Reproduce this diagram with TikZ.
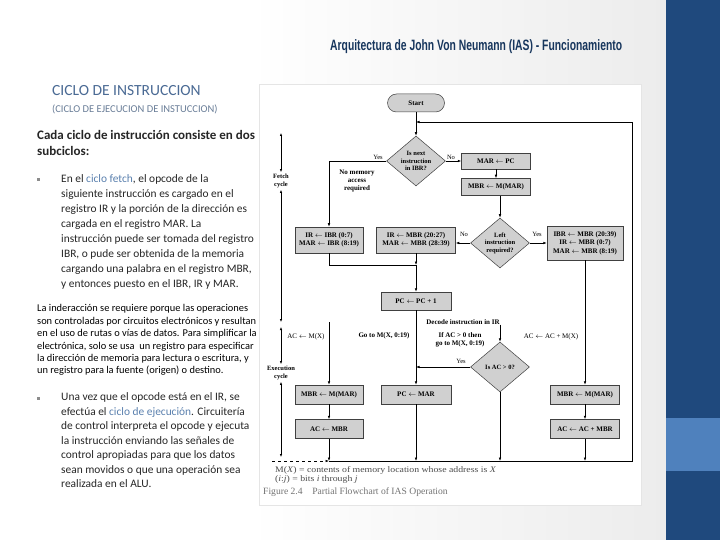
\documentclass[tikz,border=0pt]{standalone}
\usepackage{fontspec}
\setmainfont{Carlito}
\newfontfamily\fcfont{Liberation Serif}
\newfontfamily\fnfont[FakeStretch=1.15]{Liberation Serif}
\newfontfamily\titlefont[FakeStretch=0.69]{Liberation Sans}
\usetikzlibrary{shapes.geometric,arrows.meta,positioning,calc}

\definecolor{titlenavy}{HTML}{17365D}
\definecolor{headblue}{HTML}{4A6A94}
\definecolor{subblue}{HTML}{6A7E98}
\definecolor{linkblue}{HTML}{5A80AE}
\definecolor{bodygray}{HTML}{262626}
\definecolor{slidegray}{HTML}{ECECEC}
\definecolor{bardark}{HTML}{1F497D}
\definecolor{barlight}{HTML}{4F81BD}
\definecolor{boxgray}{HTML}{D0D0D0}

\newcommand{\la}{$\leftarrow$}

\tikzset{
  fcbox/.style={rectangle, draw=black!75, fill=boxgray, line width=0.5pt, inner sep=1pt,
    font=\fcfont\bfseries\fontsize{7}{8.5}\selectfont, align=center},
  fcdec/.style={diamond, draw=black!75, fill=boxgray, line width=0.5pt, inner sep=0pt,
    shape aspect=1.2, minimum width=59pt, minimum height=50pt,
    font=\fcfont\bfseries\fontsize{6.5}{7.5}\selectfont, align=center},
  fcterm/.style={rectangle, rounded corners=9pt, draw=black!75, fill=boxgray, line width=0.5pt,
    minimum width=57pt, minimum height=18pt, font=\fcfont\bfseries\fontsize{7}{8}\selectfont},
  fclbl/.style={inner sep=0pt, align=center, font=\fcfont\bfseries\fontsize{7}{7.8}\selectfont},
  fcyes/.style={inner sep=0pt, font=\fcfont\fontsize{6.5}{7.5}\selectfont},
  fcline/.style={line width=0.6pt},
  fcarr/.style={-{Latex[length=3.5pt,width=2.6pt]}, line width=0.6pt},
  cycarr/.style={{Latex[length=3pt,width=2.4pt]}-{Latex[length=3pt,width=2.4pt]}, line width=0.5pt},
  fnote/.style={inner sep=0pt, anchor=west, font=\fnfont\fontsize{8.5}{9}\selectfont, text=black!70},
  bodytxt/.style={inner sep=0pt, anchor=north west, align=left, text=bodygray},
  bulletsq/.style={rectangle, fill=black!45, inner sep=0pt, minimum size=3pt}
}

\begin{document}
\begin{tikzpicture}[x=1pt, y=-1pt]
  \useasboundingbox (0,0) rectangle (720,540);

  % slide background and side bar
  \fill[white] (0,0) rectangle (666,540);
  \shade[left color=white, right color=slidegray] (250,0) rectangle (666,540);
  \fill[bardark] (666,0) rectangle (720,540);
  \fill[barlight] (666,418) rectangle (720,471);

  % flowchart panel
  \filldraw[fill=white, draw=black!10] (259,84) rectangle (641,505);

  % title
  \node[inner sep=0pt, anchor=west, text=titlenavy, font=\titlefont\bfseries\fontsize{15}{17}\selectfont] (title) at (330,47)
    {Arquitectura de John Von Neumann (IAS) - Funcionamiento};

  % left column
  \node[inner sep=0pt, anchor=west, text=headblue, font=\fontsize{15.5}{17}\selectfont] (head) at (52,91) {CICLO DE INSTRUCCION};
  \node[inner sep=0pt, anchor=west, text=subblue, font=\fontsize{10.5}{12}\selectfont] (subhead) at (52,109) {(CICLO DE EJECUCION DE INSTUCCION)};

  \node[bodytxt, font=\bfseries\fontsize{13}{16}\selectfont] (intro) at (37,130.3)
    {Cada ciclo de instrucción consiste en dos\\subciclos:};

  \node[bulletsq] (bul1) at (38,180) {};
  \node[bodytxt, font=\fontsize{11.4}{15}\selectfont] (fetchtxt) at (61,174.6)
    {En el {\color{linkblue}ciclo fetch}, el opcode de la\\
     siguiente instrucción es cargado en el\\
     registro IR y la porción de la dirección es\\
     cargada en el registro MAR. La\\
     instrucción puede ser tomada del registro\\
     IBR, o pude ser obtenida de la memoria\\
     cargando una palabra en el registro MBR,\\
     y entonces puesto en el IBR, IR y MAR.};

  \node[bodytxt, text=black, font=\fontsize{10.4}{12.4}\selectfont] (intertxt) at (37,304.5)
    {La inderacción se requiere porque las operaciones\\
     son controladas por circuitos electrónicos y resultan\\
     en el uso de rutas o vías de datos. Para simplificar la\\
     electrónica, solo se usa\ \ un registro para especificar\\
     la dirección de memoria para lectura o escritura, y\\
     un registro para la fuente (origen) o destino.};

  \node[bulletsq] (bul2) at (38,398) {};
  \node[bodytxt, font=\fontsize{11.4}{14.5}\selectfont] (exectxt) at (61,392.6)
    {Una vez que el opcode está en el IR, se\\
     efectúa el {\color{linkblue}ciclo de ejecución}. Circuitería\\
     de control interpreta el opcode y ejecuta\\
     la instrucción enviando las señales de\\
     control apropiadas para que los datos\\
     sean movidos o que una operación sea\\
     realizada en el ALU.};

  % fetch part
  \node[fcterm] (start) at (416,103) {Start};
  \coordinate (jtop) at (416,122);
  \coordinate (rtop) at (632,122);
  \node[fcdec] (ibrq) at (416,161) {Is next\\instruction\\in IBR?};
  \node[fcbox, minimum width=69pt, minimum height=16pt] (marpc) at (496,161) {MAR \la{} PC};
  \node[fcbox, minimum width=69pt, minimum height=17pt] (mbrm) at (496,187) {MBR \la{} M(MAR)};
  \node[fcyes] (yes1) at (378,157) {Yes};
  \node[fcyes] (no1) at (451,157) {No};
  \node[fclbl] (nomem) at (357,181) {No memory\\access\\required};

  \node[fcbox, minimum width=68pt, minimum height=26pt] (iribr) at (329,240) {IR \la{} IBR (0:7)\\MAR \la{} IBR (8:19)};
  \node[fcbox, minimum width=79pt, minimum height=26pt] (irmbr) at (416,240) {IR \la{} MBR (20:27)\\MAR \la{} MBR (28:39)};
  \node[fcdec] (leftq) at (500,243) {Left\\instruction\\required?};
  \node[fcyes] (no2) at (464,234) {No};
  \node[fcyes] (yes2) at (537,234) {Yes};
  \node[fcbox, minimum width=76pt, minimum height=34pt] (ibrmbr) at (585,243)
    {IBR \la{} MBR (20:39)\\IR \la{} MBR (0:7)\\MAR \la{} MBR (8:19)};
  \coordinate (jmid) at (416,265);
  \node[fcbox, minimum width=70pt, minimum height=18pt] (pcinc) at (416,301) {PC \la{} PC + 1};

  % execution part
  \node[fclbl] (decode) at (463,322) {Decode instruction in IR};
  \coordinate (acmtop) at (329,322);
  \node[fclbl, font=\fcfont\fontsize{7}{7.8}\selectfont] (acmx) at (306,337) {AC \la{} M(X)};
  \node[fclbl] (goto) at (384,336) {Go to M(X, 0:19)};
  \node[fclbl] (ifac) at (460,340) {If AC > 0 then\\go to M(X, 0:19)};
  \node[fclbl, font=\fcfont\fontsize{7}{7.8}\selectfont] (acadd) at (551,337) {AC \la{} AC + M(X)};
  \node[fcdec] (acq) at (500,367) {Is AC > 0?};
  \node[fcyes] (yes3) at (461,361) {Yes};

  \node[fcbox, minimum width=68pt, minimum height=19pt] (mbrl) at (329,394.5) {MBR \la{} M(MAR)};
  \node[fcbox, minimum width=68pt, minimum height=19pt] (acmbr) at (329,429) {AC \la{} MBR};
  \node[fcbox, minimum width=70pt, minimum height=19pt] (pcmar) at (416,394.5) {PC \la{} MAR};
  \node[fcbox, minimum width=69pt, minimum height=19pt] (mbrr) at (585,394.5) {MBR \la{} M(MAR)};
  \node[fcbox, minimum width=69pt, minimum height=19pt] (acacc) at (585,429) {AC \la{} AC + MBR};

  \coordinate (dstart) at (272,461);
  \coordinate (bl) at (329,461);
  \coordinate (br) at (632,461);

  % connectors
  \draw[fcline] (start.south) -- (jtop);
  \draw[fcarr] (jtop) -- (ibrq.north);
  \draw[fcarr] (ibrq.west) -| (iribr.north);
  \draw[fcarr] (ibrq.east) -- (marpc.west);
  \draw[fcarr] (marpc) -- (mbrm);
  \draw[fcarr] (mbrm.south -| leftq.north) -- (leftq.north);
  \draw[fcarr] (leftq.west) -- (leftq.west -| irmbr.east);
  \draw[fcarr] (leftq.east) -- (leftq.east -| ibrmbr.west);
  \draw[fcline] (iribr.south) |- (jmid);
  \draw[fcarr] (irmbr.south) -- (jmid);
  \draw[fcarr] (jmid) -- (pcinc.north);
  \draw[fcarr] (ibrmbr.south) -- (mbrr.north);
  \draw[fcarr] (pcinc.south) -- (pcmar.north);
  \draw[fcarr] (acmtop) -- (mbrl.north);
  \draw[fcarr] (decode.south -| acq.north) -- (acq.north);
  \draw[fcarr] (acq.west) -- (acq.west -| pcinc.south);
  \draw[fcarr] (mbrl) -- (acmbr);
  \draw[fcarr] (mbrr) -- (acacc);
  \draw[fcarr] (acmbr.south) -- (bl);
  \draw[fcarr] (pcmar.south) -- (pcmar.south |- bl);
  \draw[fcarr] (acq.south) -- (acq.south |- bl);
  \draw[fcarr] (acacc.south) -- (acacc.south |- bl);
  \draw[fcarr, dashed] (dstart) -- (bl);
  \draw[fcarr] (bl) -- (br) -- (rtop) -- (jtop);

  % cycle markers
  \node[fclbl, font=\fcfont\bfseries\fontsize{6.5}{7.5}\selectfont] (fetch) at (281,181) {Fetch\\cycle};
  \node[fclbl, font=\fcfont\bfseries\fontsize{6.5}{7.5}\selectfont] (execc) at (281,373) {Execution\\cycle};
  \coordinate (fetchtop) at (281,133);
  \coordinate (fetchbot) at (281,322);
  \coordinate (exectop) at (281,327);
  \coordinate (execbot) at (281,457);
  \draw[cycarr] (fetchtop) -- ([yshift=2pt]fetch.north);
  \draw[cycarr] ([yshift=-2pt]fetch.south) -- (fetchbot);
  \draw[cycarr] (exectop) -- ([yshift=2pt]execc.north);
  \draw[cycarr] ([yshift=-2pt]execc.south) -- (execbot);

  % legend and caption
  \node[fnote] (fn1) at (275,470) {M(\textit{X}) = contents of memory location whose address is \textit{X}};
  \node[fnote] (fn2) at (275,479) {(\textit{i}:\textit{j}) = bits \textit{i} through \textit{j}};
  \node[fnote, text=black!55, font=\fcfont\fontsize{9.6}{10}\selectfont] (caption) at (263,492)
    {Figure 2.4\quad Partial Flowchart of IAS Operation};
\end{tikzpicture}
\end{document}
